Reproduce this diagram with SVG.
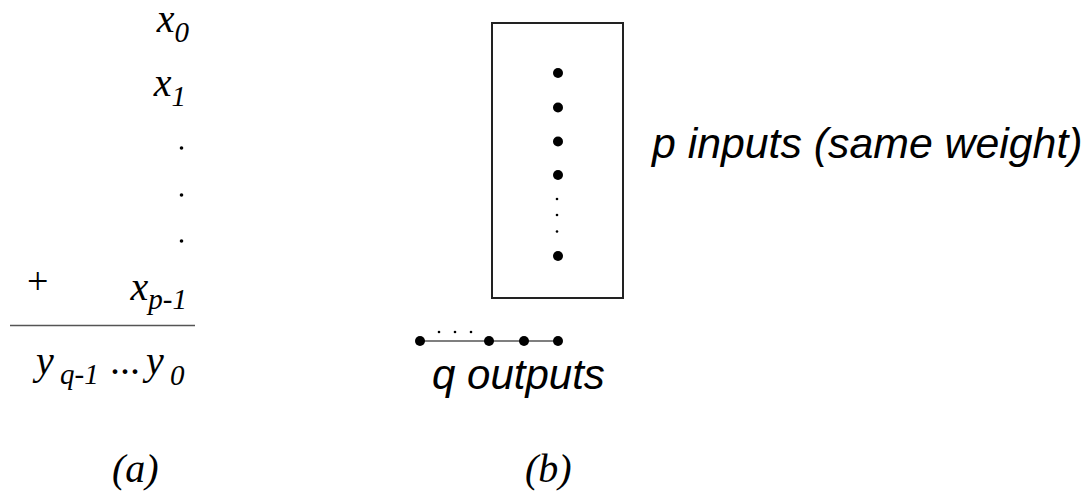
<svg xmlns="http://www.w3.org/2000/svg" width="1084" height="494" viewBox="0 0 1084 494">
<style>
.m{font-family:"Liberation Serif","Times New Roman",serif;font-style:italic;font-size:40px;fill:#000}
.s{font-size:29px}
.u{font-style:normal}
.r{font-family:"Liberation Serif","Times New Roman",serif;font-size:38px;fill:#000}
.h{font-family:"Liberation Sans",Arial,sans-serif;font-style:italic;font-size:42px;fill:#000}
.bd{fill:#000}
.ln{stroke:#555;stroke-width:1.5;fill:none}
</style>
<rect width="1084" height="494" fill="#fff"/>
<g id="part-a">
<text class="m" x="189" y="32" text-anchor="end">x<tspan class="s" dy="10">0</tspan></text>
<text class="m" x="186" y="96" text-anchor="end">x<tspan class="s" dy="10">1</tspan></text>
<circle class="bd" cx="181.5" cy="148" r="1.8"/>
<circle class="bd" cx="181.5" cy="195" r="1.8"/>
<circle class="bd" cx="181.5" cy="241" r="1.8"/>
<text class="r" x="27" y="294">+</text>
<text class="m" x="187" y="300" text-anchor="end">x<tspan class="s" dy="9">p-1</tspan></text>
<line class="ln" x1="10" y1="325.5" x2="195" y2="325.5"/>
<text class="m" y="374"><tspan x="36">y</tspan><tspan class="s" x="60" dy="10">q-1</tspan><tspan class="u" x="110" dy="-10">...</tspan><tspan x="146">y</tspan><tspan class="s" x="170" dy="11">0</tspan></text>
<text class="m" x="112" y="482">(a)</text>
</g>
<g id="box">
<rect x="492" y="23" width="131" height="275" fill="none" stroke="#222" stroke-width="2"/>
<circle class="bd" cx="558" cy="73" r="5"/>
<circle class="bd" cx="558" cy="107.5" r="5"/>
<circle class="bd" cx="558" cy="141.5" r="5"/>
<circle class="bd" cx="558" cy="175" r="5"/>
<circle class="bd" cx="557" cy="199" r="1.3"/>
<circle class="bd" cx="557" cy="215" r="1.3"/>
<circle class="bd" cx="557" cy="231.5" r="1.3"/>
<circle class="bd" cx="558" cy="256" r="5"/>
</g>
<g id="inputs-label">
<text class="h" x="652" y="158" style="font-size:42.8px">p inputs (same weight)</text>
</g>
<g id="connectors">
<line class="ln" x1="420" y1="341" x2="558" y2="341"/>
</g>
<g id="outputs">
<circle class="bd" cx="420" cy="341" r="5"/>
<circle class="bd" cx="489" cy="341" r="5"/>
<circle class="bd" cx="524" cy="341" r="5"/>
<circle class="bd" cx="558" cy="341" r="5"/>
<circle class="bd" cx="439" cy="332" r="1.3"/>
<circle class="bd" cx="455" cy="332" r="1.3"/>
<circle class="bd" cx="471" cy="332" r="1.3"/>
<text class="h" x="432" y="389">q outputs</text>
</g>
<g id="label-b">
<text class="m" x="525" y="482">(b)</text>
</g>
</svg>
